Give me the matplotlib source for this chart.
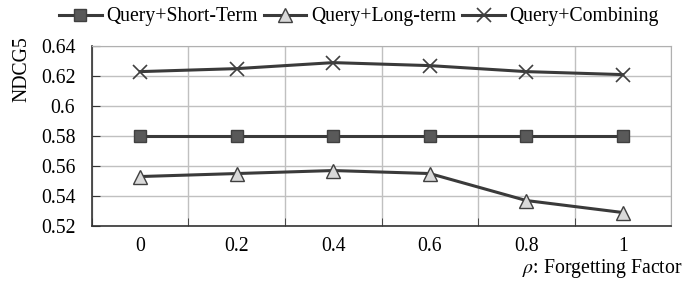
import numpy as np
import matplotlib.pyplot as plt

rho = ['0', '0.2', '0.4', '0.6', '0.8', '1']
short_term = [0.580, 0.580, 0.580, 0.580, 0.580, 0.580]
long_term = [0.553, 0.555, 0.557, 0.555, 0.537, 0.529]
combining = [0.623, 0.625, 0.629, 0.627, 0.623, 0.621]

plt.rcParams['font.family'] = ['Liberation Serif', 'DejaVu Serif']
plt.rcParams['mathtext.fontset'] = 'stix'

fig = plt.figure(figsize=(6.84, 2.83), dpi=100)
ax = fig.add_axes([0.1345, 0.2014, 0.8465, 0.6356])

x = np.arange(len(rho))
line_c = '#3a3a3a'
ax.plot(x, short_term, color=line_c, lw=2.2, marker='s', ms=8.5,
        mfc='#595959', mec='#404040', label='Query+Short-Term')
ax.plot(x, long_term, color=line_c, lw=2.2, marker='^', ms=10,
        mfc='#d9d9d9', mec='#404040', label='Query+Long-term')
ax.plot(x, combining, color=line_c, lw=2.2, marker='x', ms=10, mew=1.2,
        mec='#404040', label='Query+Combining')

ax.set_xlim(-0.5, len(rho) - 0.5)
ax.set_ylim(0.52, 0.64)
ax.set_yticks(np.arange(0.52, 0.6401, 0.02))
ax.set_yticklabels(['0.52', '0.54', '0.56', '0.58', '0.6', '0.62', '0.64'])
ax.set_xticks(x)
ax.set_xticklabels(rho)
ax.set_xticks(np.arange(-0.5, len(rho)), minor=True)
ax.tick_params(axis='x', which='major', length=0, pad=8)
ax.tick_params(axis='x', which='minor', direction='in', length=6, color='#333333')
ax.tick_params(axis='y', direction='in', length=6, color='#333333', pad=12)
ax.tick_params(labelsize=14.2)
ax.grid(axis='y', color='#c0c0c0', lw=1)
ax.grid(axis='x', which='minor', color='#c0c0c0', lw=1)
ax.set_axisbelow(True)
for s in ['top', 'right']:
    ax.spines[s].set_color('#b0b0b0')
for s in ['left', 'bottom']:
    ax.spines[s].set_color('#333333')
    ax.spines[s].set_linewidth(1.2)

ax.set_ylabel('NDCG5', fontsize=14.2, va='center')
ax.yaxis.set_label_coords(-0.121, 0.87)
fig.text(0.998, 0.036, r'$\rho$: Forgetting Factor', ha='right', va='baseline', fontsize=14.2)

fig.legend(loc='center', bbox_to_anchor=(0.525, 0.94), ncol=3, frameon=False,
           fontsize=14.2, handlelength=2.15, handletextpad=0.25, columnspacing=0.3,
           borderpad=0, borderaxespad=0)

fig.savefig('out.png', dpi=100)
